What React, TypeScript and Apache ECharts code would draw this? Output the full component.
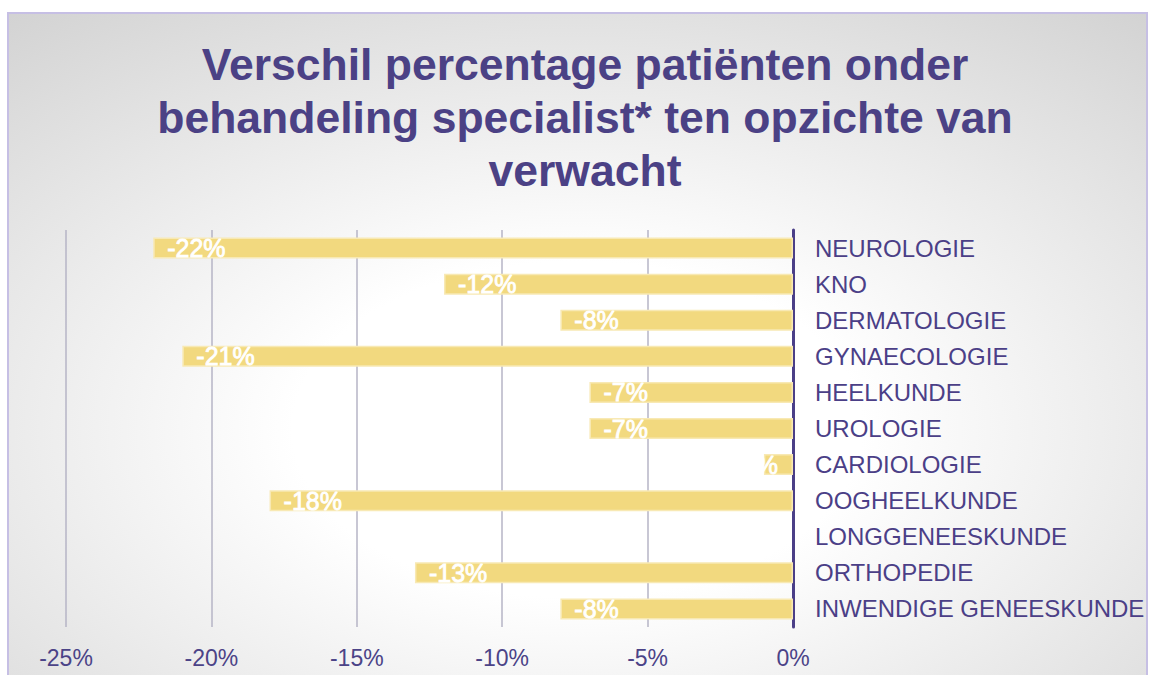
import React, { useEffect, useRef } from "react";
import * as echarts from "echarts";

const categories = [
  "NEUROLOGIE",
  "KNO",
  "DERMATOLOGIE",
  "GYNAECOLOGIE",
  "HEELKUNDE",
  "UROLOGIE",
  "CARDIOLOGIE",
  "OOGHEELKUNDE",
  "LONGGENEESKUNDE",
  "ORTHOPEDIE",
  "INWENDIGE GENEESKUNDE",
];
const values = [-22, -12, -8, -21, -7, -7, -1, -18, 0, -13, -8];
const titleLines = [
  "Verschil percentage patiënten onder",
  "behandeling specialist* ten opzichte van",
  "verwacht",
];
const xMin = -25;
const xMax = 0;
const xStep = 5;

const PURPLE = "#4b3f87";

export default function App() {
  const ref = useRef<HTMLDivElement>(null);
  useEffect(() => {
    if (!ref.current) return;
    const chart = echarts.init(ref.current, undefined, { renderer: "svg" });
    const data = values.map((v) => {
      if (v === 0) return { value: v, itemStyle: { borderWidth: 0 }, label: { show: false } };
      if (v > -2)
        return {
          value: v,
          label: { position: "left", distance: 0, offset: [14, 0] },
        };
      return { value: v };
    });
    chart.setOption({
      animation: false,
      backgroundColor: "#ffffff",
      textStyle: { fontFamily: "Liberation Sans, Arial, sans-serif" },
      graphic: [
        {
          type: "rect",
          z: -10,
          silent: true,
          shape: { x: 8, y: 13, width: 1139, height: 672 },
          style: {
            fill: {
              type: "radial",
              x: 0.5,
              y: 0.62,
              r: 1.0,
              colorStops: [
                { offset: 0, color: "#ffffff" },
                { offset: 0.25, color: "#ffffff" },
                { offset: 1, color: "#c2c2c2" },
              ],
            },
            stroke: "#c6bfe4",
            lineWidth: 2,
          },
        },
        {
          type: "text",
          x: 585,
          y: 38,
          style: {
            text: titleLines.join("\n"),
            font: "bold 44.5px Liberation Sans, Arial, sans-serif",
            fill: "#4b4185",
            textAlign: "center",
            lineHeight: 53,
          },
        },
      ],
      grid: { left: 66, right: 356, top: 230, bottom: 48, containLabel: false },
      xAxis: {
        type: "value",
        min: xMin,
        max: xMax,
        interval: xStep,
        axisLine: { show: false },
        axisTick: { show: false },
        splitLine: { show: true, lineStyle: { color: "#b6b4c6", width: 1.5 } },
        axisLabel: {
          formatter: (v: number) => `${v}%`,
          color: "#4b4387",
          fontSize: 23,
          margin: 19,
        },
      },
      yAxis: {
        type: "category",
        data: categories,
        inverse: true,
        position: "right",
        axisLine: { show: true, lineStyle: { color: PURPLE, width: 3 } },
        axisTick: { show: false },
        splitLine: { show: false },
        axisLabel: {
          color: PURPLE,
          fontSize: 24,
          margin: 22,
          align: "left",
        },
      },
      series: [
        {
          type: "bar",
          data,
          barWidth: 21,
          itemStyle: {
            color: "#f2d97f",
            borderColor: "#f8e9b4",
            borderWidth: 1.5,
          },
          label: {
            show: true,
            position: "insideLeft",
            distance: 14,
            color: "#ffffff",
            fontSize: 25,
            textBorderColor: "#ffffff",
            textBorderWidth: 0.8,
            formatter: (p: any) => (p.value === 0 ? "" : `${p.value}%`),
          },
        },
      ],
    });
    return () => chart.dispose();
  }, []);
  return (
    <div
      ref={ref}
      style={{ position: "fixed", left: 0, top: 0, width: 1149, height: 675 }}
    />
  );
}
